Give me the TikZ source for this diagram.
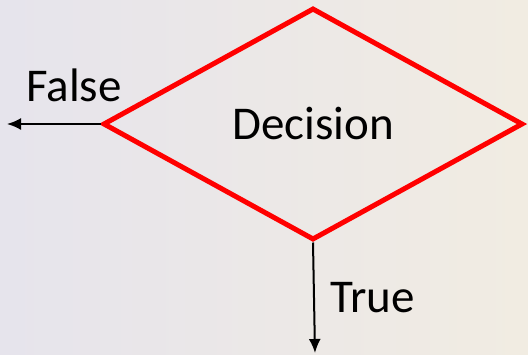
\documentclass[tikz,border=0pt]{standalone}
\usepackage{fontspec}
\setmainfont{Carlito}
\usetikzlibrary{shapes.geometric,arrows.meta}
\definecolor{bgleft}{HTML}{E6E4EC}
\definecolor{bgright}{HTML}{F1ECE2}
\definecolor{decred}{HTML}{FF0000}
\tikzset{
  decbox/.style={diamond,draw=decred,line width=5pt,minimum width=420pt,minimum height=232pt,inner sep=0pt,font=\fontsize{47}{52}\selectfont},
  lbl/.style={anchor=base west,inner sep=0pt,font=\fontsize{47}{52}\selectfont},
  flow/.style={line width=2pt,-{Latex[length=14pt,width=12pt]}}
}
\begin{document}
\begin{tikzpicture}[x=1pt,y=-1pt]
\shade[left color=bgleft,right color=bgright] (0,0) rectangle (528,354);
\useasboundingbox (0,0) rectangle (528,354);
\node[decbox] (d) at (313,124) {Decision};
\coordinate (fe) at (7,124);
\coordinate (te) at (315,353);
\draw[flow] (d.west) -- (fe);
\draw[flow] (d.south) -- (te);
\node[lbl] (f) at (26,101) {False};
\node[lbl] (t) at (330,312) {True};
\end{tikzpicture}
\end{document}
